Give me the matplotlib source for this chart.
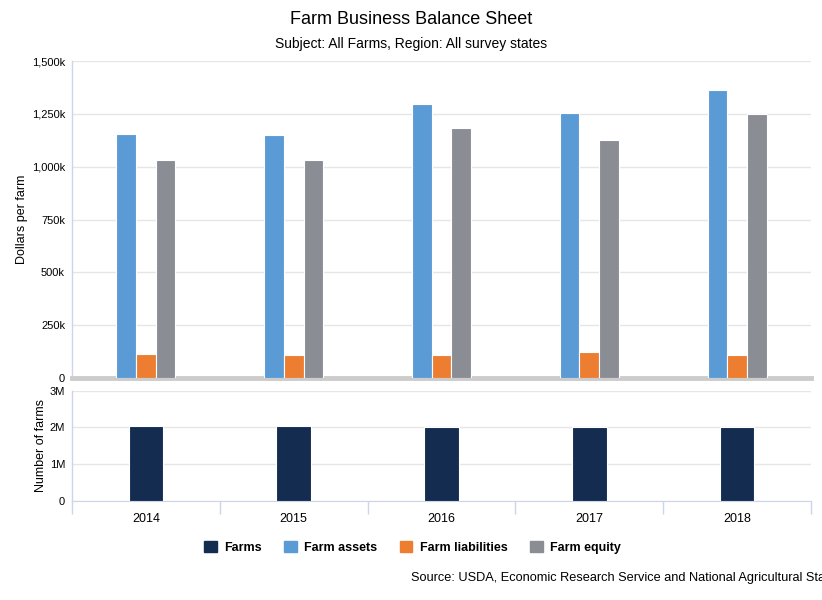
import numpy as np
import matplotlib.pyplot as plt
from matplotlib.ticker import FuncFormatter, FixedLocator
from matplotlib.patches import Patch

plt.rcParams['font.family'] = ['Liberation Sans', 'DejaVu Sans']

# data
years = ['2014', '2015', '2016', '2017', '2018']
farm_assets = [1155, 1151, 1298, 1255, 1364]        # thousand dollars per farm
farm_liabilities = [112, 108, 108, 122, 108]
farm_equity = [1032, 1032, 1184, 1127, 1250]
farms = [2.05, 2.05, 2.02, 2.02, 2.00]               # million farms

c_farms = '#132c50'
c_assets = '#5b9bd5'
c_liab = '#ed7d31'
c_equity = '#8a8d94'
grid_c = '#e6e6e6'
axis_c = '#ccd6eb'

fig = plt.figure(figsize=(8.22, 6), dpi=100)
ax1 = fig.add_axes([0.0876, 0.37, 0.899, 0.528])
ax2 = fig.add_axes([0.0876, 0.165, 0.899, 0.1838])

x = np.arange(len(years))
w = 0.133
ax1.bar(x - w, farm_assets, w, color=c_assets, edgecolor='white', linewidth=0.8, zorder=3)
ax1.bar(x, farm_liabilities, w, color=c_liab, edgecolor='white', linewidth=0.8, zorder=3)
ax1.bar(x + w, farm_equity, w, color=c_equity, edgecolor='white', linewidth=0.8, zorder=3)

ax2.bar(x, farms, 0.234, color=c_farms, edgecolor='white', linewidth=0.8, zorder=3)

for ax in (ax1, ax2):
    ax.set_xlim(-0.5, len(years) - 0.5)
    ax.grid(axis='y', color=grid_c, linewidth=1, zorder=0)
    ax.set_axisbelow(True)
    for s in ('top', 'right'):
        ax.spines[s].set_visible(False)
    ax.spines['left'].set_color(axis_c)
    ax.spines['left'].set_linewidth(1)
    ax.tick_params(axis='y', length=0, labelsize=8, pad=5, colors='black')

ax1.set_ylim(0, 1500)
ax1.set_yticks([0, 250, 500, 750, 1000, 1250, 1500])
ax1.yaxis.set_major_formatter(FuncFormatter(lambda v, p: '0' if v == 0 else f'{int(v):,}k'))
ax1.set_xticks([])
ax1.spines['bottom'].set_color('#cccccc')
ax1.spines['bottom'].set_linewidth(3.5)
ax1.set_ylabel('Dollars per farm', fontsize=9, labelpad=3)

ax2.set_ylim(0, 3)
ax2.set_yticks([0, 1, 2, 3])
ax2.yaxis.set_major_formatter(FuncFormatter(lambda v, p: '0' if v == 0 else f'{int(v)}M'))
ax2.spines['bottom'].set_color(axis_c)
ax2.set_xticks(x)
ax2.set_xticklabels(years, fontsize=9)
ax2.tick_params(axis='x', length=0, pad=9)
ax2.xaxis.set_minor_locator(FixedLocator(np.arange(-0.5, len(years), 1)))
ax2.tick_params(axis='x', which='minor', length=9, color=axis_c, width=1)
ax2.set_ylabel('Number of farms', fontsize=9, labelpad=2)

fig.text(0.5, 0.967, 'Farm Business Balance Sheet', ha='center', va='center', fontsize=13)
fig.text(0.5, 0.927, 'Subject: All Farms, Region: All survey states', ha='center', va='center', fontsize=10)

handles = [Patch(color=c_farms), Patch(color=c_assets), Patch(color=c_liab), Patch(color=c_equity)]
labels = ['Farms', 'Farm assets', 'Farm liabilities', 'Farm equity']
fig.legend(handles, labels, loc='center', bbox_to_anchor=(0.502, 0.088), ncol=4, frameon=False,
           handlelength=1.0, handleheight=1.0, columnspacing=1.8, handletextpad=0.6,
           prop={'size': 9, 'weight': 'bold'})

# source line runs past the right edge, as in the original
fig.text(411 / 822, 1 - 578 / 600,
         'Source: USDA, Economic Research Service and National Agricultural Statistics Service',
         ha='left', va='center', fontsize=9.2)

fig.savefig('out.png', dpi=100)
